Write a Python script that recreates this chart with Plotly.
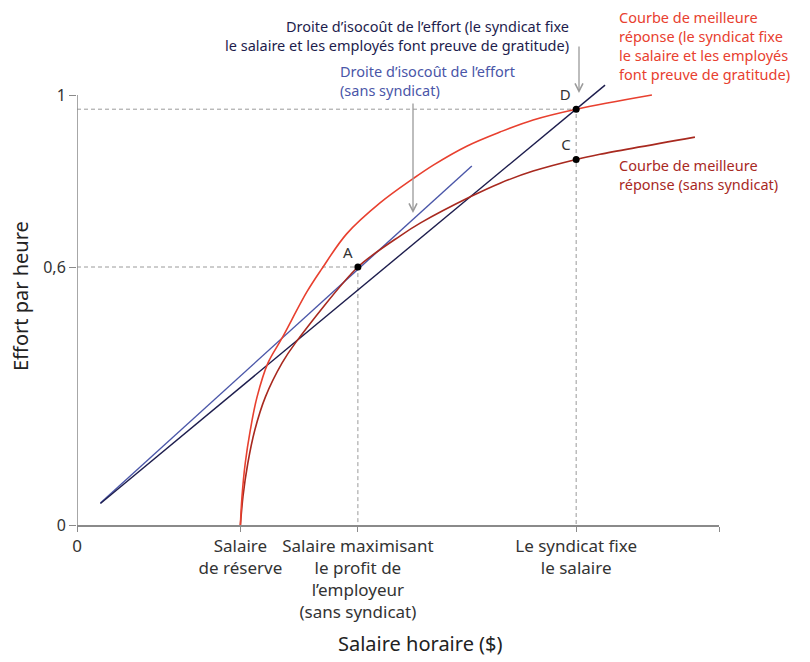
import plotly.graph_objects as go

# axis ticks
wage_ticks = [0, 5.09, 8.75, 15.55, 20]
wage_tick_text = ["0", "Salaire<br>de réserve",
                  "Salaire maximisant<br>le profit de<br>l’employeur<br>(sans syndicat)",
                  "Le syndicat fixe<br>le salaire", ""]
effort_ticks = [0, 0.6, 1]
effort_tick_text = ["0", "0,6", "1"]

# best response curve, no union
br_w = [5.09, 5.17, 5.32, 5.54, 5.87, 6.39, 6.80, 8.75, 10.06, 10.69, 12.30, 13.18, 14.21, 15.55, 16.29, 19.25]
br_e = [0.0, 0.066, 0.143, 0.221, 0.298, 0.377, 0.423, 0.6, 0.672, 0.702, 0.765, 0.795, 0.823, 0.85, 0.862, 0.902]

# best response curve, union + gratitude
brg_w = [5.09, 5.14, 5.24, 5.40, 5.61, 5.95, 6.39, 7.16, 7.62, 8.40, 9.44, 10.48, 11.10, 12.14,
         13.18, 14.21, 15.55, 17.91]
brg_e = [0.0, 0.066, 0.143, 0.221, 0.298, 0.377, 0.435, 0.542, 0.595, 0.677, 0.749, 0.806, 0.837, 0.881,
         0.914, 0.942, 0.967, 1.0]

# isocost lines
iso_w = [0.73, 12.30]
iso_e = [0.051, 0.835]
iso_union_w = [0.73, 16.45]
iso_union_e = [0.050, 1.023]

# points A, C, D
pt_w = [8.75, 15.55, 15.55]
pt_e = [0.6, 0.85, 0.967]
pt_lbl = ["A", "C", "D"]

RED = "#e8402f"
DARKRED = "#a8291f"
BLUE = "#4a56a8"
NAVY = "#1d1d4d"
GREY = "#9a9a9a"
FONT = "Noto Sans"

fig = go.Figure()

# dashed guides
for w, e in [(pt_w[0], pt_e[0]), (pt_w[2], pt_e[2])]:
    fig.add_trace(go.Scatter(x=[0, w, w], y=[e, e, 0], mode="lines",
                             line=dict(color=GREY, width=1, dash="4px,3px"), hoverinfo="skip"))

fig.add_trace(go.Scatter(x=iso_w, y=iso_e, mode="lines", line=dict(color=BLUE, width=1.4)))
fig.add_trace(go.Scatter(x=iso_union_w, y=iso_union_e, mode="lines", line=dict(color=NAVY, width=1.4)))
fig.add_trace(go.Scatter(x=br_w, y=br_e, mode="lines", line=dict(color=DARKRED, width=1.6, shape="spline", smoothing=0.8)))
fig.add_trace(go.Scatter(x=brg_w, y=brg_e, mode="lines", line=dict(color=RED, width=1.6, shape="spline", smoothing=1.0)))

fig.add_trace(go.Scatter(x=pt_w, y=pt_e, mode="markers+text", text=pt_lbl, textposition="top left",
                         textfont=dict(family=FONT, size=15, color="#333"),
                         marker=dict(color="black", size=7), cliponaxis=False))

# y axis line
fig.add_shape(type="line", x0=0, x1=0, y0=0, y1=1, xref="x", yref="y", line=dict(color="#8a8a8a", width=1.5))


# page pixel -> paper position for the text labels (plot area is 77..719 x 52..525)
def px(p):
    return (p - 77) / 642


def py(p):
    return (525 - p) / 473


labels = [
    ("Droite d’isocoût de l’effort (le syndicat fixe<br>le salaire et les employés font preuve de gratitude)",
     571, 35, "right", NAVY),
    ("Droite d’isocoût de l’effort<br>(sans syndicat)", 338, 80.5, "left", BLUE),
    ("Courbe de meilleure<br>réponse (le syndicat fixe<br>le salaire et les employés<br>font preuve de gratitude)",
     617, 45.5, "left", RED),
    ("Courbe de meilleure<br>réponse (sans syndicat)", 617, 174.5, "left", DARKRED),
]
for txt, x, y, anc, col in labels:
    fig.add_annotation(x=px(x), y=py(y), xref="paper", yref="paper", text=txt, showarrow=False,
                       xanchor=anc, yanchor="middle", align=anc, font=dict(family=FONT, size=14.5, color=col))

# arrows
for x, y0, y1 in [(413, 102, 213), (579, 45, 93)]:
    fig.add_annotation(x=px(x), y=py(y1), xref="paper", yref="paper", ax=0, ay=-(y1 - y0), text="",
                       showarrow=True, arrowhead=5, arrowsize=1.2, arrowwidth=1.3, arrowcolor=GREY)

fig.add_annotation(x=px(420), y=py(643), xref="paper", yref="paper", text="Salaire horaire ($)",
                   xanchor="center", yanchor="middle",
                   showarrow=False, font=dict(family=FONT, size=20, color="#222"))
fig.add_annotation(x=px(20), y=py(296), xref="paper", yref="paper", text="Effort par heure",
                   xanchor="center", yanchor="middle",
                   showarrow=False, textangle=-90, font=dict(family=FONT, size=20, color="#222"))

# the page body adds an 8px offset, so margins are shifted to keep the plot area at 77..719 / 52..525
fig.update_layout(
    width=810, height=662,
    margin=dict(l=69, r=99, t=44, b=145, autoexpand=False),
    paper_bgcolor="white", plot_bgcolor="white",
    showlegend=False,
    font=dict(family=FONT, size=15, color="#333"),
    xaxis=dict(range=[0, 20], showgrid=False, zeroline=False, showline=True, linecolor="#8a8a8a",
               linewidth=1.5, ticks="outside", ticklen=5, tickcolor="#8a8a8a", tickangle=0,
               tickvals=wage_ticks, ticktext=wage_tick_text, tickfont=dict(size=17, color="#333")),
    yaxis=dict(range=[0, 1.1], showgrid=False, zeroline=False, showline=False,
               ticks="outside", ticklen=7, tickcolor="#8a8a8a",
               tickvals=effort_ticks, ticktext=effort_tick_text, tickfont=dict(size=16, color="#333")),
)

fig.write_html("out.html")
